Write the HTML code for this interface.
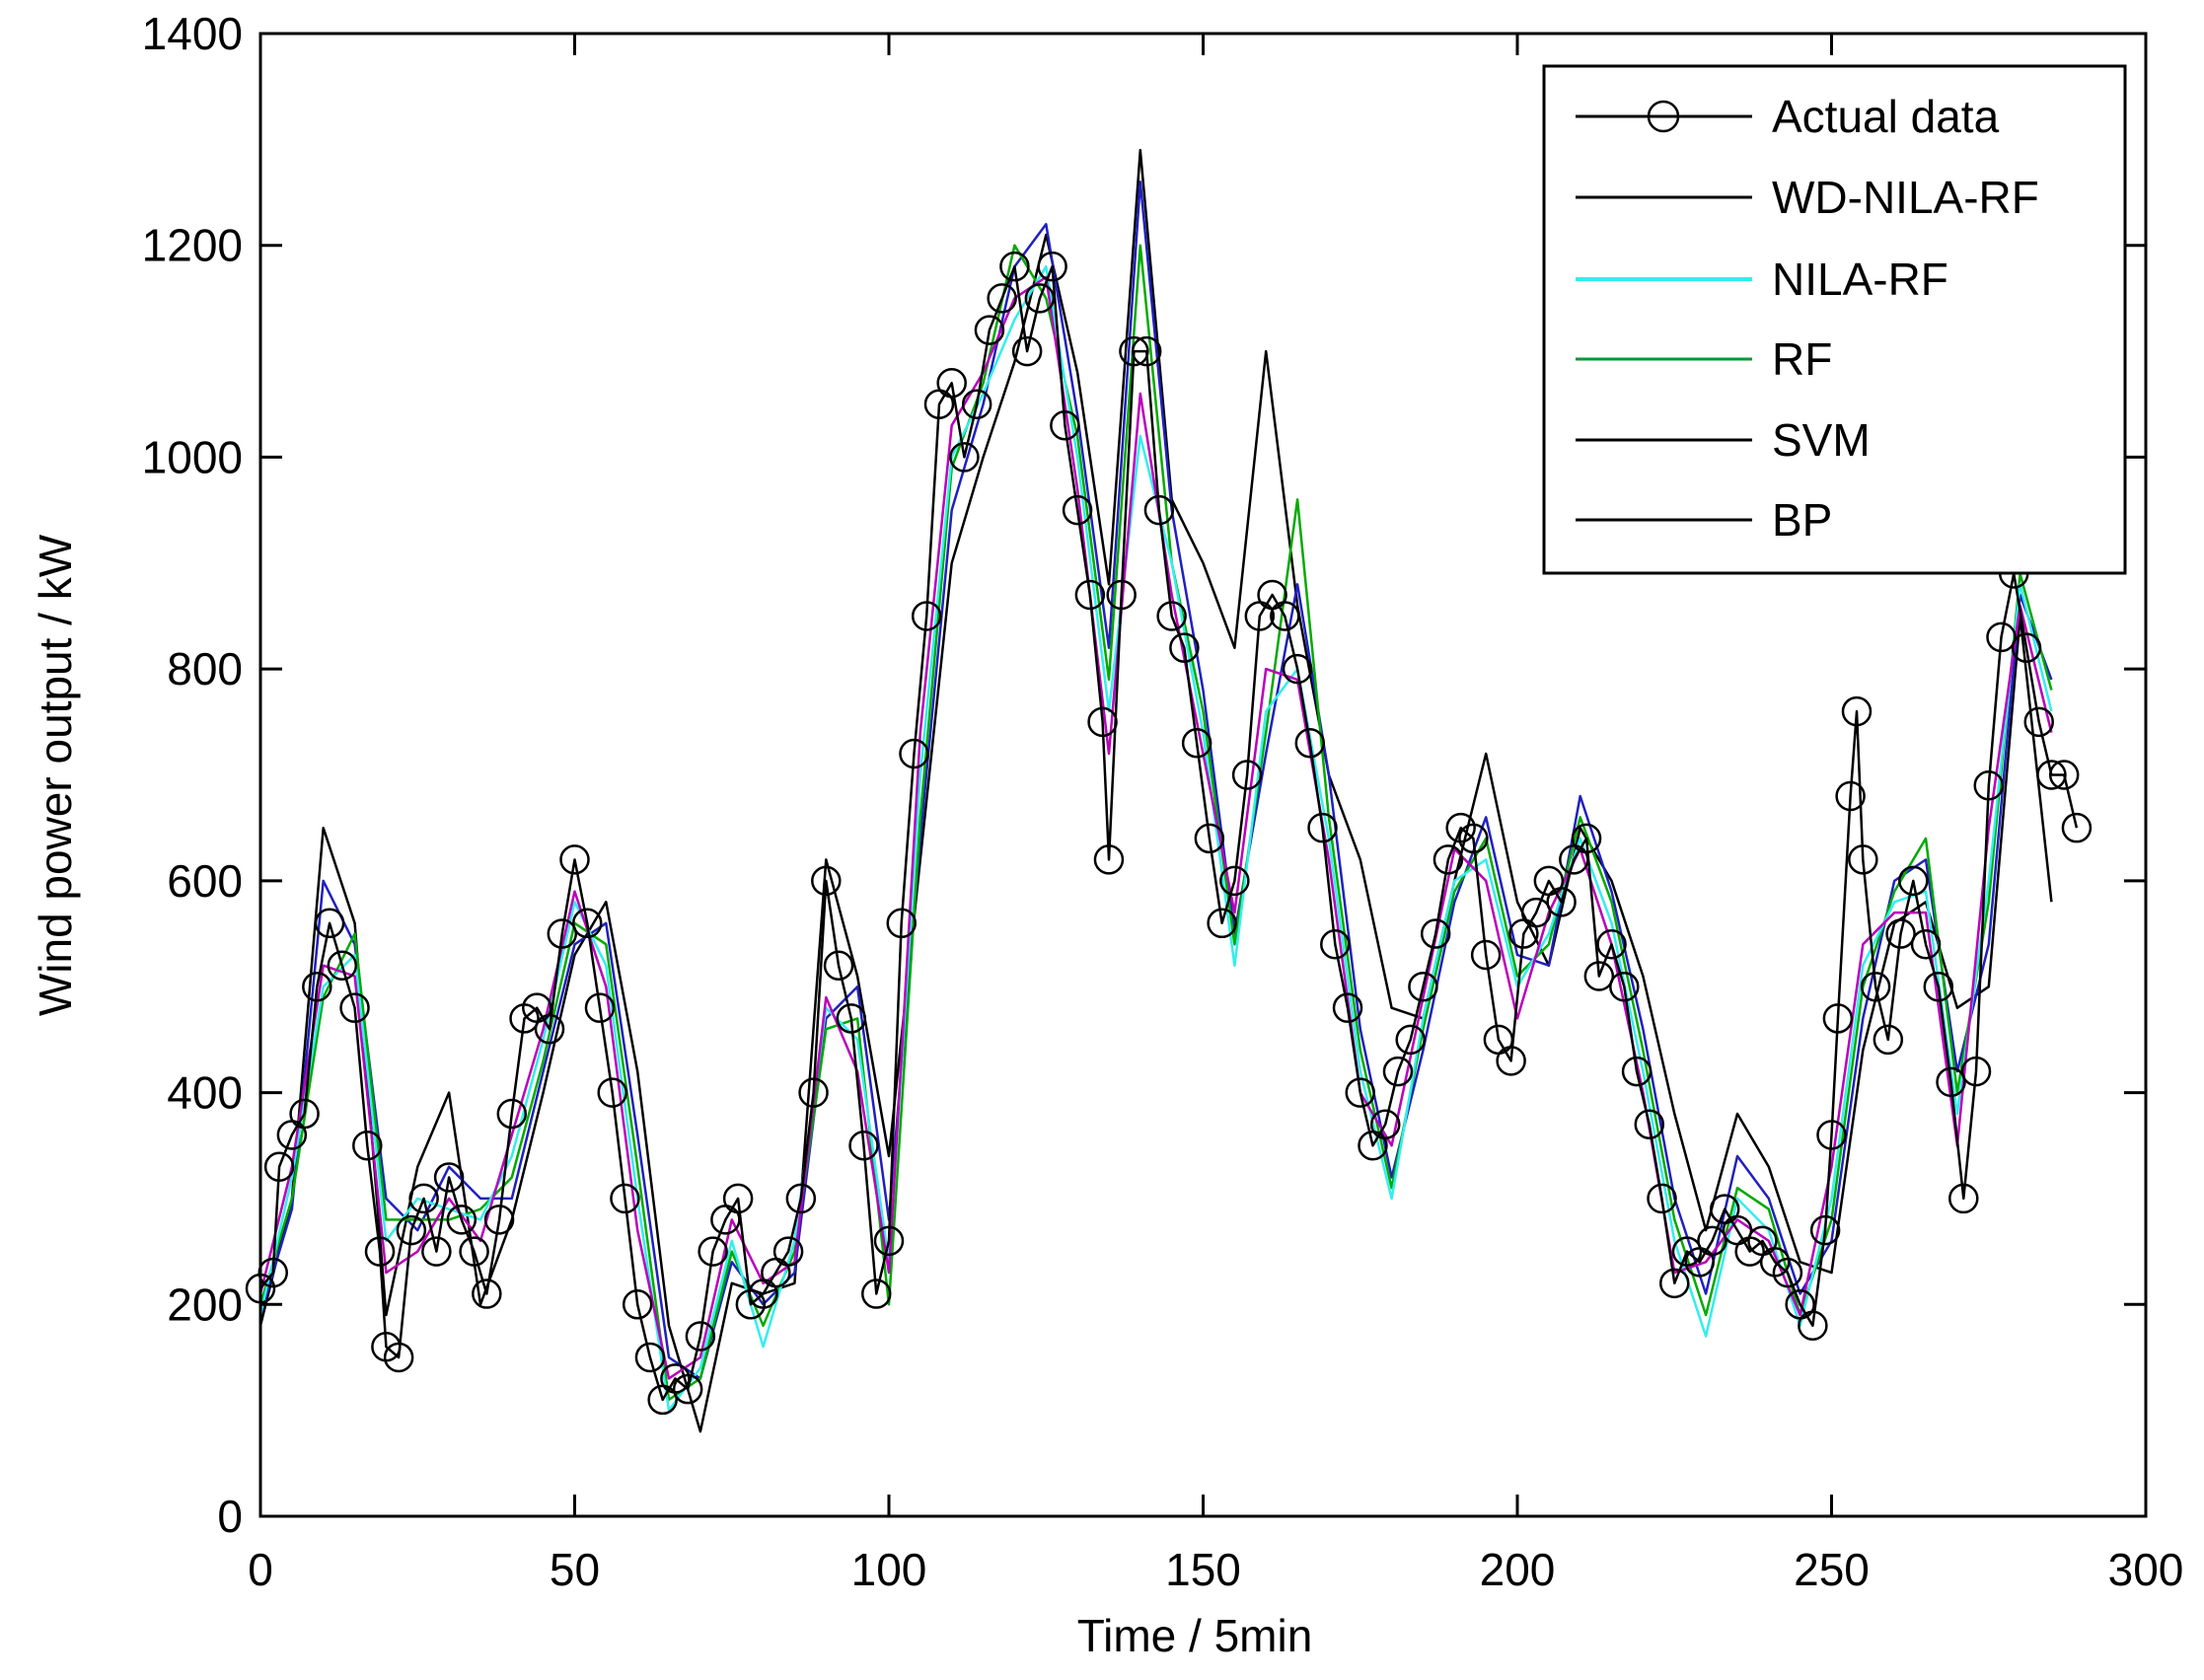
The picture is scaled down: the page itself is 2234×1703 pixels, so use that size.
<!DOCTYPE html>
<html><head><meta charset="utf-8">
<style>
html,body{margin:0;padding:0;background:#fff;}
svg{display:block;font-family:"Liberation Sans",Arial,sans-serif;}
</style></head>
<body>
<svg id="chart" width="2234" height="1703" viewBox="0 0 2234 1703" xmlns="http://www.w3.org/2000/svg">
<rect x="0" y="0" width="2234" height="1703" fill="#fff"/>
<g id="series"></g>
<g id="axes"></g>
<text x="1211" y="1674" font-size="46" text-anchor="middle">Time / 5min</text>
<text transform="translate(72,786) rotate(-90)" font-size="46" text-anchor="middle">Wind power output / kW</text>
<g>
<rect x="1565" y="67" width="589" height="514" fill="#fff" stroke="#000" stroke-width="3"/>
<g><line x1="1597" y1="118" x2="1776" y2="118" stroke="#000" stroke-width="3"/><circle cx="1686" cy="118" r="15" fill="none" stroke="#000" stroke-width="2.5"/><text x="1796" y="134" font-size="46">Actual data</text></g>
<g><line x1="1597" y1="200" x2="1776" y2="200" stroke="#000" stroke-width="3"/><text x="1796" y="216" font-size="46">WD-NILA-RF</text></g>
<g><line x1="1597" y1="283" x2="1776" y2="283" stroke="#3ee" stroke-width="4"/><text x="1796" y="299" font-size="46">NILA-RF</text></g>
<g><line x1="1597" y1="364" x2="1776" y2="364" stroke="#093" stroke-width="3"/><text x="1796" y="380" font-size="46">RF</text></g>
<g><line x1="1597" y1="446" x2="1776" y2="446" stroke="#000" stroke-width="3"/><text x="1796" y="462" font-size="46">SVM</text></g>
<g><line x1="1597" y1="527" x2="1776" y2="527" stroke="#000" stroke-width="3"/><text x="1796" y="543" font-size="46">BP</text></g>
</g>
</svg>
<script>
const actualT = [0,2,3,5,7,9,11,13,15,17,19,20,22,24,26,28,30,32,34,36,38,40,42,44,46,48,50,52,54,56,58,60,62,64,66,68,70,72,74,76,78,80,82,84,86,88,90,92,94,96,98,100,102,104,106,108,110,112,114,116,118,120,122,124,126,128,130,132,134,135,137,139,141,143,145,147,149,151,153,155,157,159,161,163,165,167,169,171,173,175,177,179,181,183,185,187,189,191,193,195,197,199,201,203,205,207,209,211,213,215,217,219,221,223,225,227,229,231,233,235,237,239,241,243,245,247,249,250,251,253,254,255,257,259,261,263,265,267,269,271,273,275,277,279,281,283,285,287,289];
const actualV = [215,230,330,360,380,500,560,520,480,350,250,160,150,270,300,250,320,280,250,210,280,380,470,480,460,550,620,560,480,400,300,200,150,110,130,120,170,250,280,300,200,210,230,250,300,400,600,520,470,350,210,260,560,720,850,1050,1070,1000,1050,1120,1150,1180,1100,1150,1180,1030,950,870,750,620,870,1100,1100,950,850,820,730,640,560,600,700,850,870,850,800,730,650,540,480,400,350,370,420,450,500,550,620,650,640,530,450,430,550,570,600,580,620,640,510,540,500,420,370,300,220,250,240,260,290,270,250,260,240,230,200,180,270,360,470,680,760,620,500,450,550,600,540,500,410,300,420,690,830,890,820,750,700,700,650];
const predT = [0,5,10,15,20,25,30,35,40,45,50,55,60,65,70,75,80,85,90,95,100,105,110,115,120,125,130,135,140,145,150,155,160,165,170,175,180,185,190,195,200,205,210,215,220,225,230,235,240,245,250,255,260,265,270,275,280,285];
const wdV = [210,330,520,510,230,250,300,260,360,460,590,500,270,130,150,280,220,240,490,420,230,740,1030,1080,1150,1170,970,720,1060,870,720,570,800,790,620,400,350,490,630,600,470,570,630,540,400,230,240,280,260,190,330,540,570,570,350,650,860,740];
const nilaV = [190,320,500,530,260,300,290,280,340,450,580,520,300,100,140,260,160,260,480,450,240,700,1000,1060,1130,1180,1000,760,1020,900,740,520,760,800,640,420,300,470,600,620,500,550,640,560,420,260,170,300,270,180,300,520,580,590,380,600,880,760];
const rfV = [200,300,490,550,280,280,280,290,320,430,560,540,330,110,130,250,180,250,460,470,200,660,990,1070,1200,1150,1020,790,1200,900,760,540,740,960,660,440,310,460,590,640,510,540,660,580,440,280,190,310,290,190,280,500,590,640,400,580,890,780];
const svmV = [190,290,600,540,300,270,330,300,300,420,540,560,360,150,130,240,200,230,470,500,280,640,950,1050,1180,1220,1040,820,1260,950,780,550,720,880,700,460,320,440,580,660,530,520,680,590,460,300,210,340,300,210,260,470,600,620,420,540,870,790];
const bpV = [180,300,650,560,190,330,400,200,280,400,530,580,420,180,80,220,210,220,620,510,340,620,900,1000,1090,1210,1080,880,1290,960,900,820,1100,860,700,620,480,470,600,720,580,520,650,600,510,380,270,380,330,240,230,440,560,580,480,500,850,580];
const xTicks = [0,50,100,150,200,250,300];
const yTicks = [0,200,400,600,800,1000,1200,1400];

const L=264,R=2175,T=34,B=1537;
const xs=t=>L+(t/300)*(R-L);
const ys=v=>B-(v/1400)*(B-T);
const NS="http://www.w3.org/2000/svg";
const sg=document.getElementById('series');
const ag=document.getElementById('axes');
function mk(tag,attrs,parent){const e=document.createElementNS(NS,tag);for(const k in attrs)e.setAttribute(k,attrs[k]);parent.appendChild(e);return e;}
function line(ts,vs,color,w,name){
  const p=mk('polyline',{points:ts.map((t,i)=>xs(t).toFixed(1)+','+ys(vs[i]).toFixed(1)).join(' '),fill:'none',stroke:color,'stroke-width':w,'stroke-linejoin':'round'},sg);
  
  
}
line(predT,bpV,'#000',2.5,'bp-line');
line(predT,svmV,'#2020c0',2.5,'svm-line');
line(predT,rfV,'#0a0',2.5,'rf-line');
line(predT,nilaV,'#3ee',2.5,'nila-rf-line');
line(predT,wdV,'#b0b',2.5,'wd-nila-rf-line');
line(actualT,actualV,'#000',2.5,'actual-data-line');
actualT.forEach((t,i)=>{
  const c=mk('circle',{cx:xs(t),cy:ys(actualV[i]),r:14,fill:'none',stroke:'#000','stroke-width':2.5},sg);
  
  
});
const box=mk('rect',{x:L,y:T,width:R-L,height:B-T,fill:'none',stroke:'#000','stroke-width':3},ag);


xTicks.forEach(t=>{
  const x=xs(t);
  mk('line',{x1:x,y1:B,x2:x,y2:B-22,stroke:'#000','stroke-width':3},ag);
  mk('line',{x1:x,y1:T,x2:x,y2:T+22,stroke:'#000','stroke-width':3},ag);
  const tx=mk('text',{x:x,y:B+70,'font-size':46,'text-anchor':'middle'},ag);
  tx.textContent=t;
  
  
});
yTicks.forEach(v=>{
  const y=ys(v);
  mk('line',{x1:L,y1:y,x2:L+22,y2:y,stroke:'#000','stroke-width':3},ag);
  mk('line',{x1:R,y1:y,x2:R-22,y2:y,stroke:'#000','stroke-width':3},ag);
  const tx=mk('text',{x:L-18,y:y+16,'font-size':46,'text-anchor':'end'},ag);
  tx.textContent=v;
  
  
});
</script>
</body></html>
